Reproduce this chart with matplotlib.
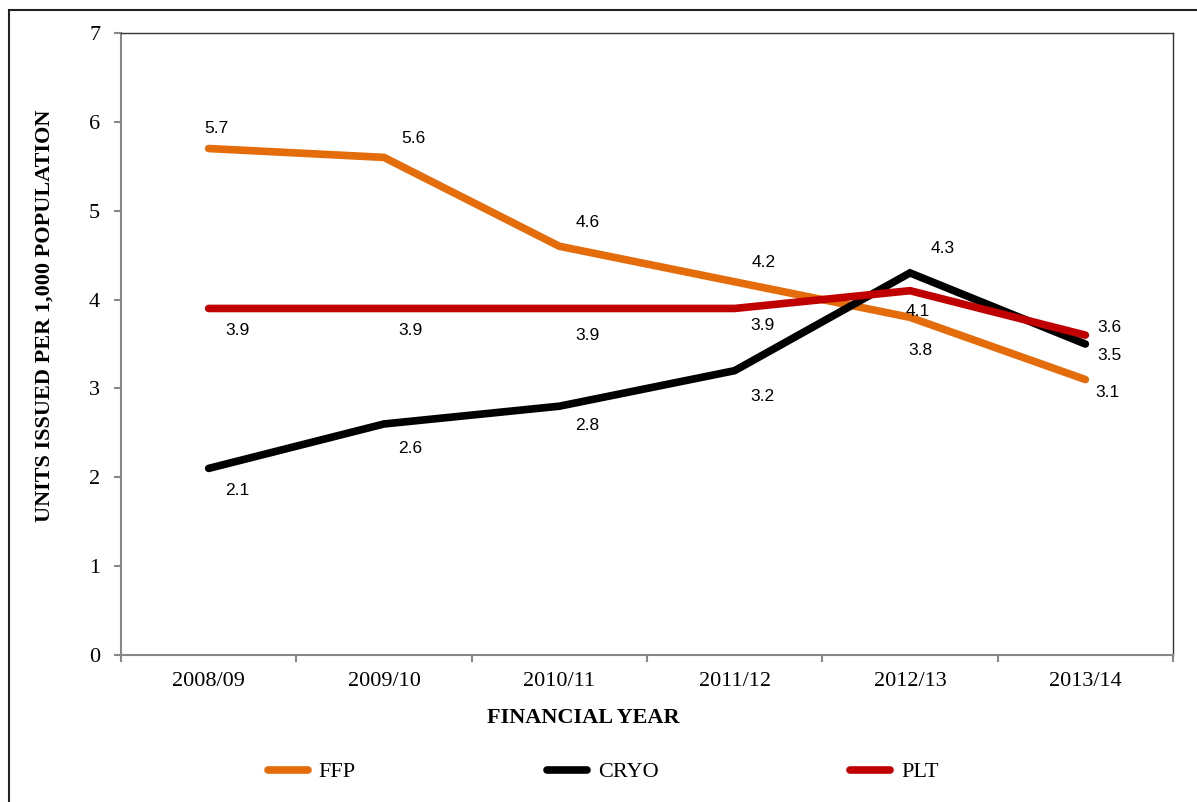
import matplotlib.pyplot as plt
from matplotlib.lines import Line2D
from matplotlib.patches import Rectangle

years = ["2008/09", "2009/10", "2010/11", "2011/12", "2012/13", "2013/14"]
ffp = [5.7, 5.6, 4.6, 4.2, 3.8, 3.1]
cryo = [2.1, 2.6, 2.8, 3.2, 4.3, 3.5]
plt_units = [3.9, 3.9, 3.9, 3.9, 4.1, 3.6]

# label offsets (pixels) from each point
ffp_off = [(8, 20), (29, 19), (28, 24), (29, 19), (10, -33), (22, -13)]
cryo_off = [(29, -22), (26, -25), (28, -19), (28, -26), (33, 24), (24, -11)]
plt_off = [(29, -22), (26, -22), (28, -27), (28, -17), (8, -21), (24, 8)]

SERIF = ["Liberation Serif", "DejaVu Serif"]
SANS = ["Liberation Sans", "DejaVu Sans"]
W, H = 1197, 802

fig = plt.figure(figsize=(W / 100, H / 100), dpi=100)
ax = fig.add_axes([121 / W, 1 - 655 / H, (1173 - 121) / W, (655 - 33) / H])

series = [
    ("FFP", ffp, "#E46C0A", ffp_off),
    ("CRYO", cryo, "#000000", cryo_off),
    ("PLT", plt_units, "#C00000", plt_off),
]
x = list(range(len(years)))
for name, vals, col, offs in series:
    ax.plot(x, vals, color=col, lw=5.5, solid_capstyle="round", solid_joinstyle="miter")
    for xi, v, (dx, dy) in zip(x, vals, offs):
        ax.annotate(f"{v:.1f}", (xi, v), xytext=(dx, dy), textcoords="offset pixels",
                    ha="center", va="center", fontsize=12.5, family=SANS)

ax.set_xlim(-0.5, 5.5)
ax.set_ylim(0, 7)
ax.set_yticks(range(8))
ax.set_xticks(x)
ax.set_xticklabels(years)
ax.set_xticks([i - 0.5 for i in range(7)], minor=True)
ax.tick_params(axis="x", which="major", length=0, pad=12)
ax.tick_params(axis="x", which="minor", length=5, color="#888888", width=1.5)
ax.tick_params(axis="y", length=5, color="#888888", width=1.5, pad=10)
for lab in ax.get_xticklabels() + ax.get_yticklabels():
    lab.set_family(SERIF)
    lab.set_fontsize(16)
for s in ["left", "bottom"]:
    ax.spines[s].set_color("#888888")
    ax.spines[s].set_linewidth(1.5)
for s in ["top", "right"]:
    ax.spines[s].set_color("#333333")
    ax.spines[s].set_linewidth(1)

fig.text(45 / W, 1 - 316 / H, "UNITS ISSUED PER 1,000 POPULATION", rotation=90,
         ha="center", va="center", fontsize=16, fontweight="bold", family=SERIF)
fig.text(583 / W, 1 - 718 / H, "FINANCIAL YEAR", ha="center", va="center",
         fontsize=16, fontweight="bold", family=SERIF)

handles = [Line2D([0], [0], color=c, lw=5.5, solid_capstyle="round") for _, _, c, _ in series]
fig.legend(handles, [n for n, _, _, _ in series], loc="center", bbox_to_anchor=(603 / W, 1 - 772 / H),
           ncol=3, frameon=False, handlelength=1.8, handletextpad=0.5, columnspacing=8.6,
           prop={"family": SERIF, "size": 16})

fig.patches.append(Rectangle((9 / W, -0.1), 1.2, 1 - 10 / H + 0.1, transform=fig.transFigure,
                             fill=False, edgecolor="#222222", lw=1.5))

fig.savefig("out.png", dpi=100)
